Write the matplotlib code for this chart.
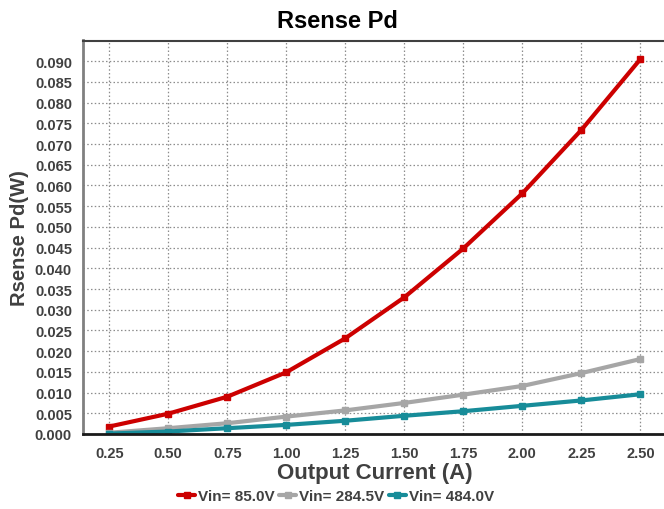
import matplotlib
matplotlib.use('Agg')
import matplotlib.pyplot as plt

# values
current = [0.25, 0.50, 0.75, 1.00, 1.25, 1.50, 1.75, 2.00, 2.25, 2.50]
pd_85 = [0.0018, 0.0049, 0.0090, 0.0149, 0.0231, 0.0330, 0.0448, 0.0581, 0.0734, 0.0905]
pd_284 = [0.0003, 0.0014, 0.0026, 0.0042, 0.0057, 0.0075, 0.0095, 0.0116, 0.0147, 0.0181]
pd_484 = [0.0001, 0.0006, 0.0014, 0.0022, 0.0032, 0.0044, 0.0055, 0.0068, 0.0081, 0.0096]
labels = ['Vin= 85.0V', 'Vin= 284.5V', 'Vin= 484.0V']
colors = ['#CC0000', '#A6A6A6', '#178C99']

plt.rcParams['font.family'] = ['Liberation Sans', 'DejaVu Sans']
plt.rcParams['font.weight'] = 'bold'

fig = plt.figure(figsize=(6.64, 5.10), dpi=100)
ax = fig.add_axes([83 / 664, 1 - 435 / 510, 1 - 83 / 664, (435 - 41.5) / 510])

for ys, lab, col in zip([pd_85, pd_284, pd_484], labels, colors):
    ax.plot(current, ys, color=col, linewidth=3, marker='s', markersize=5,
            label=lab, solid_capstyle='round')

ax.set_xlim(0.139, 2.6)
ax.set_ylim(0, 0.095)
ax.set_xticks(current)
ax.set_xticklabels(['%.2f' % c for c in current])
yt = [i * 0.005 for i in range(19)]
ax.set_yticks(yt)
ax.set_yticklabels(['%.3f' % v for v in yt])
ax.tick_params(length=0, labelsize=10.5, labelcolor='#404040')
ax.tick_params(axis='y', pad=8)
ax.tick_params(axis='x', pad=9)
ax.grid(True, linestyle=(0, (1.2, 1.8)), color='#8C8C8C', linewidth=0.9)
ax.set_axisbelow(True)

ax.spines['right'].set_visible(False)
ax.spines['top'].set_color('#404040')
ax.spines['top'].set_linewidth(1.5)
ax.spines['left'].set_color('#808080')
ax.spines['left'].set_linewidth(2)
ax.spines['bottom'].set_color('#1A1A1A')
ax.spines['bottom'].set_linewidth(2)

fig.text(337 / 664, 1 - 21 / 510, 'Rsense Pd', ha='center', va='center',
         fontsize=17, fontweight='bold', color='black')
fig.text(375 / 664, 1 - 474 / 510, 'Output Current (A)', ha='center', va='center',
         fontsize=16, fontweight='bold', color='#404040')
fig.text(20 / 664, 1 - 238 / 510, 'Rsense Pd(W)', ha='center', va='center',
         rotation=90, fontsize=14.5, fontweight='bold', color='#404040')

leg = fig.legend(loc='center', bbox_to_anchor=(336 / 664, 1 - 497 / 510), ncol=3,
                 frameon=False, fontsize=11, handlelength=1.1, handletextpad=0.2,
                 columnspacing=0.3, borderpad=0)
for t in leg.get_texts():
    t.set_color('#404040')

fig.savefig('out.png', dpi=100)
